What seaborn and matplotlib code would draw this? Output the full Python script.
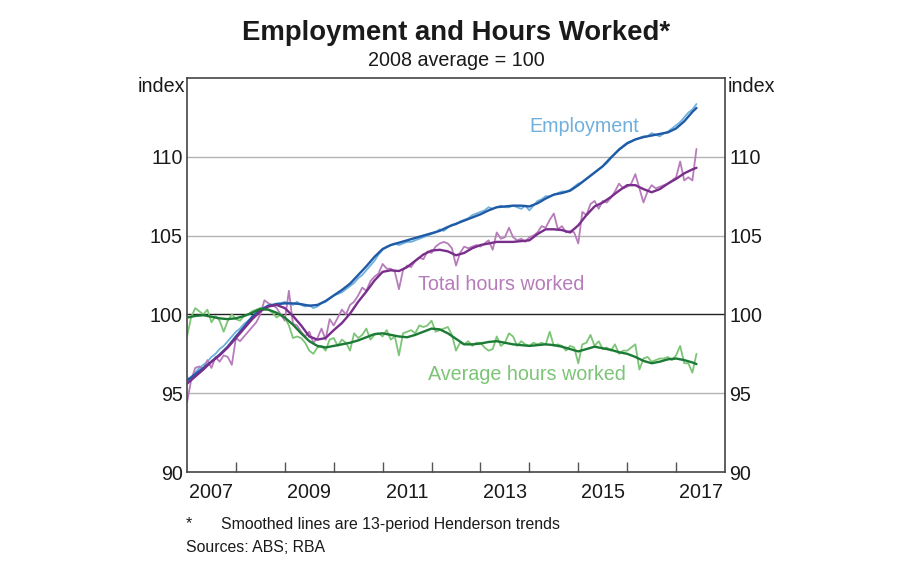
import numpy as np
import pandas as pd
import matplotlib
matplotlib.use("Agg")
import matplotlib.pyplot as plt
import seaborn as sns

# ---------------- data ----------------
months = pd.date_range("2007-01-01", periods=126, freq="MS")
trend_dates = list(pd.date_range("2007-01-01", "2017-05-01", freq="2MS")) + [pd.Timestamp("2017-06-01")]

emp_raw = [
    95.9, 96.0, 96.3, 96.6, 96.8, 97.0, 97.3, 97.5, 97.8, 98.0, 98.3, 98.6,
    98.9, 99.1, 99.4, 99.6, 99.8, 100.0, 100.2, 100.4, 100.6, 100.6, 100.7, 100.7,
    100.8, 100.7, 100.6, 100.8, 100.6, 100.5, 100.6, 100.4, 100.5, 100.7, 100.8, 101.0,
    101.2, 101.3, 101.4, 101.6, 101.8, 102.0, 102.3, 102.5, 102.8, 103.1, 103.4, 103.8,
    104.1, 104.3, 104.4, 104.5, 104.4, 104.5, 104.6, 104.6, 104.7, 104.8, 104.9, 105.0,
    105.1, 105.2, 105.4, 105.3, 105.5, 105.7, 105.7, 105.9, 106.0, 106.1, 106.3, 106.4,
    106.5, 106.6, 106.8, 106.7, 106.8, 106.9, 106.8, 106.8, 106.9, 106.8, 106.7, 106.9,
    106.6, 106.9, 107.2, 107.3, 107.5, 107.5, 107.6, 107.7, 107.8, 107.8, 107.9, 108.1,
    108.3, 108.4, 108.6, 108.8, 109.0, 109.2, 109.4, 109.6, 109.9, 110.2, 110.5, 110.7,
    110.9, 111.0, 111.1, 111.2, 111.3, 111.3, 111.5, 111.4, 111.3, 111.5, 111.6, 111.8,
    112.0, 112.2, 112.5, 112.8, 113.0, 113.35,
]
tot_raw = [
    94.4, 95.8, 96.6, 96.7, 96.5, 97.1, 96.6, 97.3, 97.0, 97.4, 97.3, 96.8,
    98.5, 98.3, 98.6, 98.9, 99.2, 99.5, 100.0, 100.9, 100.7, 100.6, 100.4, 100.0,
    99.6, 101.5, 99.4, 99.3, 98.9, 98.6, 98.9, 98.2, 98.5, 99.1, 98.4, 99.7,
    99.3, 99.8, 100.3, 100.0, 100.6, 100.8, 101.2, 101.7, 101.5, 102.1, 102.4, 102.6,
    103.2, 102.9, 102.9, 102.7, 101.6, 102.8, 103.1, 103.0, 103.4, 103.6, 103.5, 104.0,
    103.9, 104.3, 104.5, 104.6, 104.5, 104.2, 103.1, 103.9, 104.3, 104.2, 104.3, 104.4,
    104.3, 104.5, 104.7, 104.1, 105.2, 104.8, 104.9, 105.5, 104.9, 104.7, 104.8, 104.6,
    104.9, 105.0, 105.2, 105.6, 105.5, 106.0, 106.4, 105.4, 105.6, 105.2, 105.3, 105.2,
    104.5, 106.5, 106.3, 107.0, 107.2, 106.7, 107.2, 107.1, 107.4, 107.8, 108.3, 108.0,
    108.1, 108.3, 108.9, 108.0, 107.1, 107.8, 108.2, 108.0, 108.1, 108.2, 108.3, 108.5,
    108.7, 109.7, 108.5, 108.7, 108.5, 110.5,
]
avg_raw = [
    98.6, 99.8, 100.4, 100.2, 100.0, 100.3, 99.5, 99.9, 99.6, 98.9, 99.6, 100.0,
    99.7, 99.6, 99.9, 100.0, 100.2, 100.3, 100.4, 100.3, 100.3, 100.1, 99.8, 100.0,
    99.8, 99.3, 98.5, 98.6, 98.5, 98.2, 97.7, 97.5, 97.9, 98.0, 97.7, 98.4,
    98.5, 98.0, 98.4, 98.2, 97.7, 98.8, 98.5, 98.7, 99.1, 98.4, 98.7, 98.8,
    98.6, 99.0, 98.4, 98.6, 97.4, 98.8, 98.9, 99.0, 98.8, 99.3, 99.2, 99.3,
    99.6, 98.9, 99.0, 99.1, 99.2, 98.7, 97.7, 98.2, 98.1, 98.3, 98.0, 98.2,
    98.2, 97.9, 97.7, 97.8, 98.6, 98.0, 98.2, 98.8, 98.6, 98.0, 98.3, 98.1,
    98.0, 98.2, 98.1, 98.2, 98.1, 98.9, 98.0, 98.1, 98.0, 97.7, 98.0, 97.9,
    96.9, 98.1, 98.2, 98.7, 98.0, 98.3, 97.8, 97.9, 97.7, 98.1, 97.5, 97.7,
    97.7, 97.9, 98.1, 96.5, 97.2, 97.3, 97.0, 97.1, 97.2, 97.2, 97.3, 97.1,
    97.4, 98.0, 96.9, 96.9, 96.3, 97.5,
]

# trends, every second month
emp_trend = [
    95.8, 96.2, 96.6, 97.0, 97.45, 97.95,
    98.6, 99.2, 99.85, 100.3, 100.55, 100.65,
    100.7, 100.7, 100.65, 100.55, 100.6, 100.85,
    101.2, 101.55, 101.95, 102.5, 103.05, 103.65,
    104.15, 104.4, 104.55, 104.7, 104.85, 105.0,
    105.15, 105.3, 105.55, 105.75, 105.95, 106.15,
    106.35, 106.6, 106.8, 106.85, 106.9, 106.9,
    106.85, 107.05, 107.35, 107.6, 107.7, 107.85,
    108.2, 108.6, 109.0, 109.4, 109.95, 110.45,
    110.85, 111.1, 111.25, 111.35, 111.45, 111.55,
    111.8, 112.25, 112.85, 113.1,
]
tot_trend = [
    95.6, 96.05, 96.5, 97.0, 97.4, 97.9,
    98.5, 99.1, 99.7, 100.2, 100.5, 100.6,
    100.4, 99.9, 99.3, 98.6, 98.4, 98.5,
    99.0, 99.45, 100.05, 100.8, 101.45, 102.15,
    102.7, 102.8, 102.75, 103.0, 103.4, 103.8,
    104.05, 104.1, 104.0, 103.75, 103.9, 104.2,
    104.4, 104.5, 104.6, 104.6, 104.6, 104.65,
    104.7, 105.1, 105.4, 105.4, 105.35, 105.2,
    105.65, 106.3, 106.85, 107.1, 107.45, 107.85,
    108.2, 108.2, 107.95, 107.75, 107.95, 108.3,
    108.6, 108.95, 109.2, 109.3,
]
avg_trend = [
    99.8, 99.9, 99.95, 99.85, 99.75, 99.7,
    99.75, 99.9, 100.1, 100.35, 100.3, 100.1,
    99.8, 99.35, 98.8, 98.3, 98.0, 97.9,
    98.0, 98.1, 98.2, 98.35, 98.55, 98.75,
    98.8, 98.7, 98.6, 98.55, 98.7, 98.9,
    99.1, 99.05, 98.8, 98.45, 98.1, 98.1,
    98.15, 98.25, 98.3, 98.2, 98.1, 98.05,
    98.0, 98.05, 98.1, 98.05, 97.95, 97.8,
    97.65, 97.8, 97.95, 97.85, 97.75, 97.6,
    97.5, 97.3, 97.05, 96.9, 97.0, 97.15,
    97.2, 97.1, 96.95, 96.85,
]

year_labels = ["2007", "2009", "2011", "2013", "2015", "2017"]
y_ticks = [90, 95, 100, 105, 110]

# colours
EMP_L, EMP_D = "#6fb0dc", "#1f5aa6"
TOT_L, TOT_D = "#b77cba", "#7a2e8c"
AVG_L, AVG_D = "#7cc576", "#1b7a35"


def dec_year(dates):
    return [d.year + (d.month - 1) / 12 for d in dates]


raw = pd.DataFrame({"x": dec_year(months), "emp": emp_raw, "tot": tot_raw, "avg": avg_raw})
trend = pd.DataFrame({"x": dec_year(trend_dates), "emp": emp_trend, "tot": tot_trend, "avg": avg_trend})

# ---------------- figure ----------------
sns.set_theme(style="white")
plt.rcParams["font.family"] = ["Liberation Sans", "DejaVu Sans"]

fig = plt.figure(figsize=(9, 5.8), dpi=100)
ax = fig.add_axes([187 / 900, 1 - 472 / 580, (725 - 187) / 900, (472 - 78) / 580])

for v in [95, 105, 110]:
    ax.axhline(v, color="#b3b3b3", lw=1.0, zorder=1)
ax.axhline(100, color="#222222", lw=1.0, zorder=1)

sns.lineplot(data=raw, x="x", y="emp", ax=ax, color=EMP_L, lw=1.3, zorder=2)
sns.lineplot(data=raw, x="x", y="tot", ax=ax, color=TOT_L, lw=1.3, zorder=2)
sns.lineplot(data=raw, x="x", y="avg", ax=ax, color=AVG_L, lw=1.3, zorder=2)
sns.lineplot(data=trend, x="x", y="emp", ax=ax, color=EMP_D, lw=1.7, zorder=3)
sns.lineplot(data=trend, x="x", y="tot", ax=ax, color=TOT_D, lw=1.7, zorder=3)
sns.lineplot(data=trend, x="x", y="avg", ax=ax, color=AVG_D, lw=1.7, zorder=3)

ax.set_xlim(2007, 2018)
ax.set_ylim(90, 115)
ax.set_xlabel("")
ax.set_ylabel("")

# x ticks: year boundaries (marks), labels centred in odd years
ax.set_xticks(list(range(2008, 2018)))
ax.set_xticklabels([])
ax.set_xticks([int(y) + 0.5 for y in year_labels], minor=True)
ax.set_xticklabels(year_labels, minor=True)
ax.tick_params(axis="x", which="major", direction="in", length=7, width=1, color="#555555", bottom=True)
ax.tick_params(axis="x", which="minor", length=0, pad=8, labelsize=14.2, labelcolor="#1a1a1a")

ax.set_yticks(y_ticks)
ax.set_yticklabels([str(v) for v in y_ticks])
ax.tick_params(axis="y", which="both", length=0, pad=3, labelsize=14.2, labelcolor="#1a1a1a",
               labelleft=True, labelright=True)

for s in ax.spines.values():
    s.set_visible(True)
    s.set_color("#444444")
    s.set_linewidth(1.2)

# series labels
ax.text(2007 + (529 - 187) / 48.9, 90 + (472 - 126) / 15.76, "Employment", color=EMP_L,
        fontsize=14.2, ha="left", va="center")
ax.text(2007 + (418 - 187) / 48.9, 90 + (472 - 284) / 15.76, "Total hours worked", color=TOT_L,
        fontsize=14.2, ha="left", va="center")
ax.text(2007 + (428 - 187) / 48.9, 90 + (472 - 374) / 15.76, "Average hours worked", color=AVG_L,
        fontsize=14.2, ha="left", va="center")

# titles and notes
fig.text(456 / 900, 1 - 33 / 580, "Employment and Hours Worked*", ha="center", va="center",
         fontsize=19.8, fontweight="bold", color="#1a1a1a")
fig.text(456 / 900, 1 - 61 / 580, "2008 average = 100", ha="center", va="center",
         fontsize=14.2, color="#1a1a1a")
fig.text(185 / 900, 1 - 86 / 580, "index", ha="right", va="center", fontsize=14.2, color="#1a1a1a")
fig.text(728 / 900, 1 - 86 / 580, "index", ha="left", va="center", fontsize=14.2, color="#1a1a1a")
fig.text(186 / 900, 1 - 524 / 580, "*", ha="left", va="center", fontsize=11.4, color="#1a1a1a")
fig.text(221 / 900, 1 - 524 / 580, "Smoothed lines are 13-period Henderson trends", ha="left",
         va="center", fontsize=11.4, color="#1a1a1a")
fig.text(186 / 900, 1 - 548 / 580, "Sources: ABS; RBA", ha="left", va="center", fontsize=11.4,
         color="#1a1a1a")

fig.savefig("out.png", dpi=100, facecolor="white")
